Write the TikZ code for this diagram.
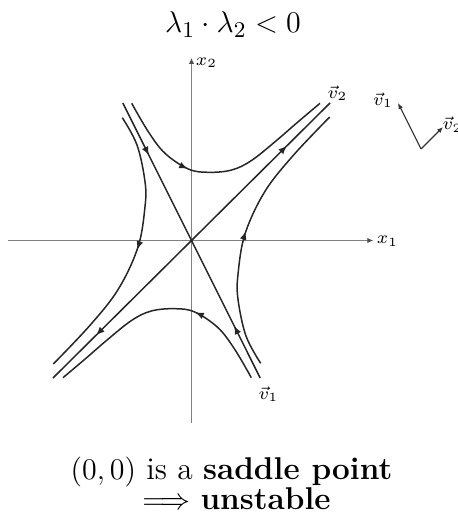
\documentclass[tikz,border=0pt]{standalone}
\usetikzlibrary{arrows.meta,decorations.markings}
\begin{document}
\begin{tikzpicture}[x=0.4pt,y=0.4pt,
  traj/.style={line width=0.6pt,black!85},
  axisline/.style={line width=0.6pt,black!50,-{Latex[length=2.4pt,width=2.2pt,color=black!70]}},
  basisvec/.style={line width=0.45pt,black!80,-{Latex[length=2.4pt,width=2pt]}},
  flowat/.style={postaction={decorate},decoration={markings,
     mark=at position #1 with {\arrow{Latex[length=3.4pt,width=2.8pt]}}}},
  lbl/.style={inner sep=0pt,font=\fontsize{7.5}{9}\selectfont},
  bigtext/.style={inner sep=0pt}]
\useasboundingbox (-191.5,-271.5) rectangle (266.5,240.5);
% coordinates
\coordinate (O) at (0,0);
\coordinate (v1a) at (-68.7,137.5);
\coordinate (v1b) at (68.7,-137.5);
\coordinate (v2a) at (138.5,137.5);
\coordinate (v2b) at (-138.5,-137.5);
\coordinate (xl) at (-183.2,0);
\coordinate (xr) at (181.8,0);
\coordinate (yb) at (0,-182.8);
\coordinate (yt) at (0,182.5);
% axes
\draw[axisline] (xl) -- (xr);
\draw[axisline] (yb) -- (yt);
\node[lbl] (x1) at (196,-0.5) {$x_1$};
\node[lbl] (x2) at (15,178) {$x_2$};
% eigenlines
\draw[traj,flowat=0.38] (v1a) -- (O);
\draw[traj,flowat=0.38] (v1b) -- (O);
\draw[traj,flowat=0.69] (O) -- (v2a);
\draw[traj,flowat=0.69] (O) -- (v2b);
\node[lbl] (lv2) at (146,147.5) {$\vec{v}_2$};
\node[lbl] (lv1) at (77,-153.5) {$\vec{v}_1$};
% trajectories (point symmetric about the origin)
\foreach \ang in {0,180}{
\begin{scope}[rotate=\ang]
\draw[traj,flowat=0.36] plot[smooth,tension=0.6] coordinates {(-59.8,137.2) (-43.2,108.8) (-26.5,87.2) (-3.2,71.5) (16.8,68.2) (40.2,70.5) (60,80) (85,100) (105.2,117.5) (128.5,137.2)};
\draw[traj,flowat=0.49] plot[smooth,tension=0.6] coordinates {(-69.2,122.8) (-54.5,95.5) (-46.5,58.8) (-46.5,33.8) (-53.5,-6.5) (-73.2,-48.7) (-101.5,-84.8) (-138.2,-123.5)};
\end{scope}}
% basis vectors
\coordinate (B) at (229.5,91.5);
\coordinate (B1) at (206.5,137.5);
\coordinate (B2) at (251.5,113.5);
\draw[basisvec] (B) -- (B1);
\draw[basisvec] (B) -- (B2);
\node[lbl] (bv1) at (191.5,140.5) {$\vec{v}_1$};
\node[lbl,anchor=west] (bv2) at (250.5,116) {$\vec{v}_2$};
% title and caption
\node[bigtext,anchor=base,font=\fontsize{12.5}{15}\selectfont] (title) at (41.5,207.5) {$\lambda_1\cdot\lambda_2<0$};
\node[bigtext,anchor=base,font=\fontsize{12.6}{15}\selectfont] (cap1) at (40,-239) {$(0,0)$ is a \textbf{saddle point}};
\node[bigtext,anchor=base,font=\fontsize{12.6}{15}\selectfont] (cap2) at (45,-269) {$\Longrightarrow$ \textbf{unstable}};
\end{tikzpicture}
\end{document}
